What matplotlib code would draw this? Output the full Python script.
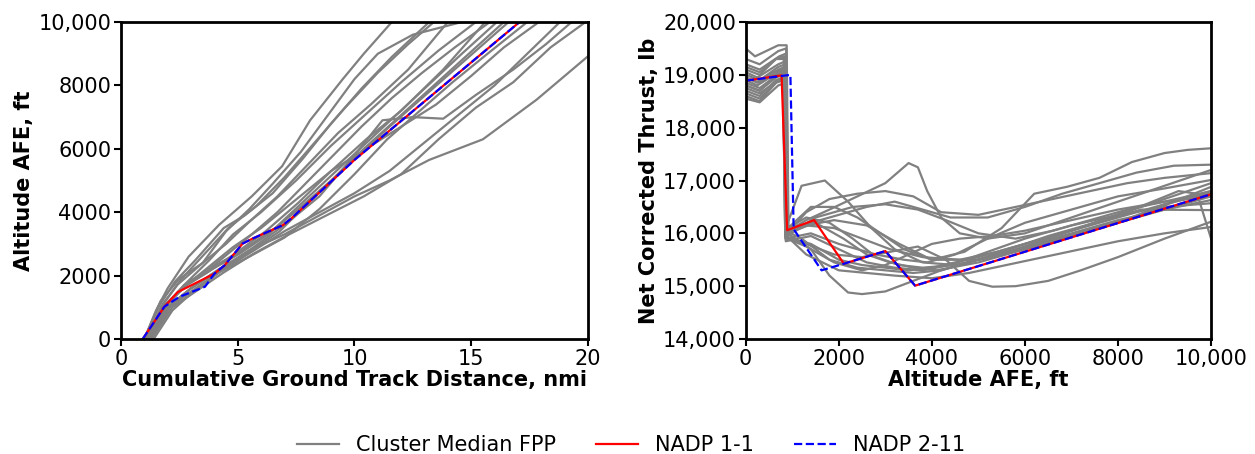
import matplotlib
matplotlib.use("Agg")
import matplotlib.pyplot as plt
from matplotlib.ticker import FuncFormatter

# --- altitude vs. cumulative ground track distance (nmi, ft) ---
nadp11_dist = [0.93, 1.86, 2.43, 4.0, 4.43, 5.21, 5.64, 6.93, 7.29, 10.0, 17.07]
nadp11_alt = [0, 1020, 1480, 2060, 2320, 3010, 3170, 3590, 3800, 5650, 10000]
nadp211_dist = [0.93, 1.86, 2.5, 3.6, 4.0, 4.43, 5.21, 5.64, 6.93, 7.29, 10.0, 17.07]
nadp211_alt = [0, 1020, 1330, 1650, 2060, 2320, 3010, 3170, 3590, 3800, 5650, 10000]

fpp_dist = [
    [1.0, 1.5, 2.0, 2.9, 4.2, 5.6, 6.9, 8.1, 9.5, 10.4, 11.6],
    [1.0, 1.6, 2.3, 3.2, 4.4, 5.3, 6.5, 7.8, 9.0, 10.3, 11.6, 13.2],
    [1.1, 1.7, 2.4, 3.5, 4.5, 5.5, 6.5, 7.7, 8.8, 10.0, 11.0, 12.5, 14.6],
    [1.1, 1.8, 2.6, 3.6, 4.6, 5.8, 7.0, 8.3, 9.6, 11.0, 12.3, 13.4],
    [1.2, 1.9, 2.7, 3.8, 4.8, 6.0, 7.5, 9.0, 10.5, 12.0, 13.6, 15.2],
    [1.2, 2.0, 2.9, 4.0, 5.2, 6.6, 8.2, 9.8, 11.4, 13.0, 14.6, 16.1],
    [1.3, 2.0, 3.0, 4.2, 5.4, 6.8, 8.3, 9.9, 11.5, 13.2, 14.9, 16.6],
    [1.2, 2.0, 3.0, 4.3, 5.5, 7.0, 8.5, 10.0, 11.2, 12.5, 13.8, 15.2, 16.8, 18.2, 19.3],
    [1.1, 1.9, 2.8, 3.8, 4.8, 6.0, 7.5, 9.0, 10.5, 12.0, 13.5, 15.0, 16.4, 17.9],
    [1.2, 2.0, 3.0, 4.2, 5.5, 7.0, 8.5, 10.0, 11.5, 13.2, 15.5, 17.8, 20.0],
    [1.3, 2.1, 3.1, 4.3, 5.6, 7.0, 8.5, 10.0, 11.5, 13.0, 14.5, 16.0, 17.4, 18.8],
    [1.3, 2.2, 3.2, 4.4, 5.7, 7.2, 8.8, 10.4, 12.0, 13.6, 15.2, 16.8, 18.4, 19.9],
    [1.0, 1.7, 2.5, 3.5, 4.5, 5.5, 6.7, 8.0, 9.3, 10.7, 12.3, 14.0],
    [1.1, 1.8, 2.6, 3.7, 4.9, 6.2, 7.6, 9.0, 10.5, 12.0, 13.8, 15.6],
    [1.2, 2.0, 2.8, 3.9, 5.1, 6.3, 7.6, 9.0, 10.4, 11.9, 13.4, 14.9, 16.4],
    [1.1, 1.9, 2.7, 3.6, 4.6, 5.6, 6.7, 7.9, 9.1, 10.3, 11.6, 12.9, 14.3, 15.8],
    [1.4, 2.2, 3.1, 4.2, 5.5, 7.0, 8.5, 10.0, 11.4, 12.8, 14.2, 15.7, 17.4],
]
fpp_alt = [
    [0, 900, 1600, 2600, 3600, 4500, 5450, 6900, 8200, 9000, 10000],
    [0, 1000, 1800, 2500, 3500, 3900, 4600, 5700, 6800, 7900, 8900, 10000],
    [0, 1000, 1700, 2400, 3400, 4100, 4900, 5900, 7000, 8200, 9000, 9600, 10000],
    [0, 1100, 1900, 2700, 3500, 4200, 5100, 6200, 7300, 8400, 9300, 10000],
    [0, 1000, 1700, 2500, 3300, 4000, 5000, 6100, 7100, 8100, 9100, 10000],
    [0, 1100, 1800, 2300, 2800, 3500, 4600, 5700, 6800, 7900, 9000, 10000],
    [0, 1000, 1600, 2200, 2700, 3400, 4500, 5600, 6700, 7800, 8900, 10000],
    [0, 1000, 1600, 2200, 2800, 3600, 4500, 5800, 6900, 7000, 6950, 7700, 8500, 9300, 10000],
    [0, 1100, 1700, 2300, 2900, 3500, 4400, 5300, 6000, 6700, 7400, 8300, 9200, 10000],
    [0, 1000, 1600, 2200, 2800, 3300, 3900, 4500, 5000, 5650, 6300, 7550, 8920],
    [0, 1000, 1550, 2150, 2750, 3400, 4000, 4600, 5300, 6200, 7100, 8000, 9000, 10000],
    [0, 1000, 1500, 2100, 2700, 3300, 3900, 4500, 5200, 6300, 7300, 8100, 9200, 10000],
    [0, 1200, 1900, 2400, 3000, 3700, 4500, 5500, 6500, 7400, 8500, 10000],
    [0, 1000, 1600, 2100, 2700, 3400, 4300, 5300, 6300, 7200, 8500, 10000],
    [0, 1100, 1700, 2200, 2700, 3300, 4100, 5000, 6000, 7000, 8000, 9000, 10000],
    [0, 1050, 1700, 2100, 2700, 3300, 4000, 4900, 5800, 6700, 7600, 8400, 9200, 10000],
    [0, 900, 1500, 2100, 2600, 3200, 4100, 5200, 6300, 7200, 8100, 9000, 10000],
]

# --- net corrected thrust vs. altitude (ft, lb) ---
nadp11_thr_alt = [0, 770, 890, 1470, 2110, 3000, 3640, 10000]
nadp11_thrust = [18890, 18990, 16060, 16250, 15425, 15665, 15010, 16740]
nadp211_thr_alt = [0, 960, 1030, 1630, 2110, 3000, 3640, 10000]
nadp211_thrust = [18890, 19000, 16080, 15300, 15425, 15665, 15010, 16740]

fpp_thr_alt = [
    [0, 250, 600, 800, 850, 1300, 1900, 2600, 3300, 4000, 4700, 5500, 6200, 6900, 7600, 8300, 9000, 9500, 10000],
    [0, 300, 650, 820, 870, 1400, 2000, 2600, 3200, 3800, 4400, 5200, 6000, 6800, 7600, 8400, 9200, 10000],
    [0, 200, 700, 880, 920, 1300, 1800, 2400, 3000, 3500, 3700, 3900, 4200, 4600, 5200, 6000, 7000, 8000, 9000, 10000],
    [0, 300, 650, 820, 860, 1200, 1700, 2200, 2700, 3200, 3800, 4500, 5500, 6500, 7500, 8500, 9500, 10000],
    [0, 250, 700, 840, 890, 1300, 1800, 2400, 3000, 3600, 4200, 5000, 5800, 6600, 7400, 8200, 9000, 10000],
    [0, 300, 650, 800, 850, 1400, 2000, 2800, 3400, 3900, 4500, 5200, 6000, 7000, 8000, 9000, 10000],
    [0, 250, 700, 860, 900, 1400, 1800, 2200, 2500, 3000, 3600, 4200, 5000, 6000, 7000, 8000, 9000, 10000],
    [0, 300, 650, 800, 850, 1300, 1900, 2500, 3100, 3700, 4300, 4800, 5300, 5800, 6500, 7200, 8000, 9000, 10000],
    [0, 300, 700, 840, 880, 1300, 2000, 2600, 3200, 4000, 4800, 5600, 6400, 7200, 8000, 9000, 10000],
    [0, 300, 700, 850, 890, 1300, 1900, 2500, 3100, 3800, 4600, 5400, 6200, 7000, 7800, 8600, 9300, 9700, 10000],
    [0, 300, 700, 850, 900, 1400, 2000, 2500, 3000, 3500, 4000, 5000, 6000, 7000, 8000, 9000, 10000],
    [0, 300, 680, 840, 880, 1500, 2100, 2600, 3100, 3600, 4100, 5000, 6000, 7000, 8000, 9000, 10000],
    [0, 300, 720, 860, 900, 1300, 1800, 2300, 2800, 3300, 3800, 4500, 5500, 6500, 7500, 8500, 10000],
    [0, 300, 650, 820, 860, 1400, 2000, 2600, 3200, 3800, 4400, 5200, 6000, 7000, 8000, 9000, 10000],
    [0, 300, 700, 870, 910, 1400, 1900, 2400, 2900, 3400, 4000, 5000, 6000, 7000, 8000, 9000, 10000],
    [0, 300, 700, 840, 880, 1500, 2300, 3000, 3700, 4300, 5000, 5800, 6600, 7400, 8200, 9000, 10000],
    [0, 300, 650, 820, 860, 1200, 1800, 2400, 3000, 3600, 4200, 4800, 5500, 6500, 7500, 8500, 10000],
    [0, 300, 700, 860, 900, 1300, 1900, 2500, 3000, 3500, 4000, 4600, 5300, 6000, 7000, 8000, 9000, 10000],
]
fpp_thrust = [
    [18950, 18850, 19050, 19100, 15950, 16150, 16250, 16150, 15800, 15500, 15650, 16100, 16750, 16880, 17050, 17350, 17520, 17580, 17610],
    [18800, 18700, 19000, 19050, 16000, 16200, 16350, 16500, 16600, 16450, 16300, 16300, 16500, 16750, 16950, 17150, 17280, 17300],
    [19500, 19350, 19560, 19560, 16050, 16250, 16450, 16700, 16950, 17330, 17250, 16800, 16300, 16000, 15900, 16000, 16300, 16600, 16900, 17200],
    [19100, 19000, 19300, 19300, 16100, 16900, 17000, 16600, 16100, 15700, 15450, 15400, 15600, 15900, 16200, 16500, 16800, 16950],
    [19050, 18950, 19200, 19250, 16000, 16400, 16650, 16750, 16800, 16700, 16400, 16350, 16500, 16650, 16800, 16950, 17050, 17140],
    [18700, 18600, 18900, 18950, 15900, 16000, 15800, 15600, 15500, 15450, 15600, 15900, 16200, 16450, 16700, 16850, 17010],
    [18900, 18800, 19050, 19100, 16000, 15700, 15200, 14880, 14850, 14900, 15100, 15300, 15500, 15750, 16000, 16250, 16450, 16630],
    [18800, 18700, 18950, 19000, 15950, 15800, 15600, 15550, 15650, 15750, 15500, 15100, 14990, 15000, 15100, 15300, 15550, 15900, 16220],
    [18600, 18500, 18900, 18950, 15950, 15600, 15300, 15250, 15200, 15150, 15250, 15400, 15550, 15700, 15850, 16000, 16120],
    [19000, 18900, 19150, 19200, 16050, 16150, 16100, 15900, 15700, 15550, 15500, 15650, 15850, 16050, 16300, 16550, 16800, 16750, 15900],
    [18750, 18650, 18900, 18950, 15900, 15800, 15500, 15400, 15350, 15300, 15350, 15550, 15800, 16050, 16300, 16550, 16800],
    [18850, 18750, 19000, 19050, 16000, 16200, 15900, 15600, 15450, 15350, 15300, 15450, 15700, 15950, 16200, 16450, 16700],
    [19200, 19100, 19350, 19400, 16100, 16300, 16200, 15900, 15550, 15400, 15350, 15400, 15600, 15850, 16100, 16350, 16880],
    [18650, 18550, 18850, 18900, 15850, 15950, 15700, 15450, 15350, 15300, 15400, 15650, 15900, 16150, 16350, 16500, 16570],
    [19300, 19200, 19450, 19500, 16100, 16500, 16500, 16300, 16000, 15700, 15500, 15500, 15700, 15950, 16200, 16550, 16760],
    [18950, 18850, 19100, 19150, 15950, 16300, 16500, 16550, 16450, 16250, 16000, 15900, 16050, 16250, 16450, 16600, 16700],
    [19150, 19050, 19300, 19350, 16050, 15900, 15500, 15350, 15300, 15250, 15300, 15450, 15650, 15950, 16200, 16450, 16440],
    [18550, 18480, 18800, 18850, 15900, 15750, 15450, 15300, 15400, 15600, 15800, 15900, 15950, 16050, 16250, 16450, 16600, 16800],
]

GRAY = "#808080"
TICK_FS = 15
LABEL_FS = 15


def comma_fmt(v, pos):
    # only five-digit numbers get a thousands separator
    return "{:,.0f}".format(v) if abs(v) >= 10000 else "{:.0f}".format(v)


def style_axes(ax):
    for s in ax.spines.values():
        s.set_linewidth(2)
    ax.tick_params(direction="out", length=5, width=1.5, labelsize=TICK_FS, pad=2)


fig = plt.figure(figsize=(12.55, 4.54), dpi=100)
ax1 = fig.add_axes([0.0964, 0.2533, 0.3721, 0.6982])
ax2 = fig.add_axes([0.5942, 0.2533, 0.3708, 0.6982])

for d, a in zip(fpp_dist, fpp_alt):
    ax1.plot(d, a, color=GRAY, lw=1.6)
ax1.plot(nadp11_dist, nadp11_alt, color="red", lw=1.6)
ax1.plot(nadp211_dist, nadp211_alt, color="blue", lw=1.6, ls="--")
ax1.set_xlim(0, 20)
ax1.set_ylim(0, 10000)
ax1.set_xticks([0, 5, 10, 15, 20])
ax1.set_yticks([0, 2000, 4000, 6000, 8000, 10000])
ax1.yaxis.set_major_formatter(FuncFormatter(comma_fmt))
ax1.set_xlabel("Cumulative Ground Track Distance, nmi", fontsize=LABEL_FS, fontweight="bold", labelpad=1)
ax1.set_ylabel("Altitude AFE, ft", fontsize=LABEL_FS, fontweight="bold", labelpad=3)
style_axes(ax1)

for a, t in zip(fpp_thr_alt, fpp_thrust):
    ax2.plot(a, t, color=GRAY, lw=1.6)
ax2.plot(nadp11_thr_alt, nadp11_thrust, color="red", lw=1.6)
ax2.plot(nadp211_thr_alt, nadp211_thrust, color="blue", lw=1.6, ls="--")
ax2.set_xlim(0, 10000)
ax2.set_ylim(14000, 20000)
ax2.set_xticks([0, 2000, 4000, 6000, 8000, 10000])
ax2.set_yticks(range(14000, 20001, 1000))
ax2.xaxis.set_major_formatter(FuncFormatter(comma_fmt))
ax2.yaxis.set_major_formatter(FuncFormatter(lambda v, p: "{:,.0f}".format(v)))
ax2.set_xlabel("Altitude AFE, ft", fontsize=LABEL_FS, fontweight="bold", labelpad=1)
ax2.set_ylabel("Net Corrected Thrust, lb", fontsize=LABEL_FS, fontweight="bold", labelpad=3)
style_axes(ax2)

handles = [
    plt.Line2D([], [], color=GRAY, lw=1.6),
    plt.Line2D([], [], color="red", lw=1.6),
    plt.Line2D([], [], color="blue", lw=1.6, ls="--"),
]
fig.legend(handles, ["Cluster Median FPP", "NADP 1-1", "NADP 2-11"],
           loc="center", bbox_to_anchor=(0.503, 0.02), ncol=3, frameon=False,
           fontsize=15, handlelength=2.0, handletextpad=0.85, columnspacing=1.9)

fig.savefig("out.png", dpi=100)
